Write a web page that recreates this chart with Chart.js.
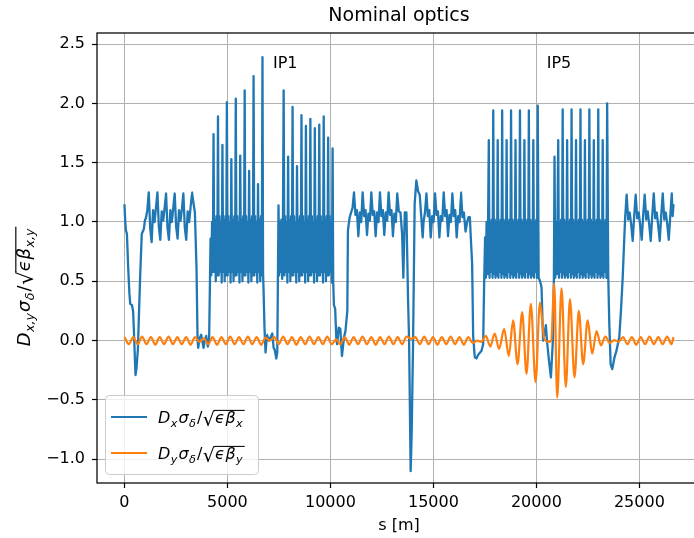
<!DOCTYPE html>
<html>
<head>
<meta charset="utf-8">
<script src="https://cdn.jsdelivr.net/npm/chart.js@4.4.1/dist/chart.umd.min.js"></script>
<style>
  html, body { margin: 0; padding: 0; background: #fff; overflow: hidden; }
  #wrap { width: 694px; height: 538px; overflow: hidden; }
  canvas { display: block; }
</style>
</head>
<body>
<div id="wrap"><canvas id="optics" width="720" height="538"></canvas></div>
<script>
// Axis ticks and labels
var xTicks = [0, 5000, 10000, 15000, 20000, 25000];
var yTicks = [-1.0, -0.5, 0.0, 0.5, 1.0, 1.5, 2.0, 2.5];
var ipNames = ['IP1', 'IP5'];
var ipS = [7210, 20500];
var ipY = 2.3;

// Dx sigma/sqrt(eps beta) : pieces, [s, value] pairs or
// evenly spaced runs of values
var dxStart = [[0,1.15],[40,1.0],[70,0.93],[120,0.90],[180,0.62],[240,0.40],[280,0.31],[360,0.30],[420,0.25],[470,0.03],[535,-0.29],[580,-0.24],[650,-0.08],[760,0.53],[840,0.90],[940,0.94],[1000,1.02]];
var dxArc1 = [1.03, 1.10, 1.25,
  0.95, 0.83, 1.10, 1.00, 1.12, 1.25,
  0.96, 0.85, 1.09, 1.01, 1.12, 1.24,
  0.95, 0.85, 1.10, 1.00, 1.12, 1.24,
  0.96, 0.86, 1.10, 1.01, 1.11, 1.24,
  0.95, 0.85, 1.09, 1.00, 1.12, 1.25];
var dxIr1 = [[3350,1.16],[3420,1.08],[3500,0.60],[3550,0.0],[3580,-0.06],[3650,0.02],[3725,0.05],[3840,-0.06],[3900,0.0],[3970,0.04],[4050,-0.05],[4110,0.0]];
var dxIp1Left = [0.86, 0.55, 1.00, 0.58,
  1.74, 0.58, 1.02, 0.50, 1.05, 0.55,
  1.89, 0.55, 1.05, 0.58, 1.00, 0.49,
  1.65, 0.58, 1.02, 0.50, 1.05, 0.55,
  2.01, 0.55, 1.05, 0.58, 1.00, 0.49,
  1.53, 0.58, 1.02, 0.50, 1.05, 0.55,
  2.04, 0.55, 1.05, 0.58, 1.00, 0.49,
  1.56, 0.58, 1.02, 0.50, 1.05, 0.55,
  2.11, 0.55, 1.05, 0.58, 1.00, 0.49,
  1.43, 0.58, 1.02, 0.50, 1.05, 0.55,
  2.23, 0.55, 1.05, 0.58, 1.00, 0.49,
  1.32, 0.58, 1.02, 0.50, 1.05, 0.55,
  2.39];
var dxIp1 = [[6730,0.57],[6755,0.42],[6800,0.10],[6850,-0.10],[6920,0.05],[7010,0.0],[7100,0.03],[7180,0.06],[7240,-0.06],[7300,-0.08],[7370,-0.15],[7420,-0.10],[7450,0.52],[7480,1.14]];
var dxIp1Right = [0.55, 1.00, 0.58, 1.02, 0.52, 1.00,
  2.11, 0.55, 1.05, 0.58, 1.00, 0.49,
  1.55, 0.58, 1.02, 0.50, 1.05, 0.55,
  1.97, 0.55, 1.05, 0.58, 1.00, 0.49,
  1.47, 0.58, 1.02, 0.50, 1.05, 0.55,
  1.90, 0.55, 1.05, 0.58, 1.00, 0.49,
  1.81, 0.58, 1.02, 0.50, 1.05, 0.55,
  1.87, 0.55, 1.05, 0.58, 1.00, 0.49,
  1.79, 0.58, 1.02, 0.50, 1.05, 0.55,
  1.82, 0.55, 1.05, 0.58, 1.00, 0.49,
  1.89, 0.58, 1.02, 0.50, 1.05, 0.55,
  1.71, 0.55, 1.05, 0.58, 1.00, 0.49,
  1.62];
var dxIr2 = [[10135,0.50],[10170,0.30],[10230,0.27],[10290,0.0],[10330,-0.03],[10400,0.11],[10480,0.10],[10560,-0.13],[10660,0.03],[10730,0.08],[10820,0.25],[10850,0.93],[10935,1.04]];
var dxArc2 = [1.08, 1.12, 1.25,
  1.06, 1.10, 0.88, 1.08, 1.00, 1.25,
  1.05, 1.10, 0.89, 1.07, 1.01, 1.25,
  1.06, 1.09, 0.88, 1.08, 1.00, 1.25,
  1.05, 1.10, 0.89, 1.08, 1.01, 1.25,
  1.06, 1.10, 0.88, 1.07, 1.00, 1.24];
var dxIr3 = [[13320,1.09],[13400,1.08],[13480,0.90],[13540,0.53],[13610,1.08],[13690,1.08],[13770,0.34],[13820,0.0],[13895,-1.10],[13945,-0.78],[14010,-0.05],[14090,1.15],[14170,1.35],[14255,1.26],[14335,1.23],[14420,1.02],[14480,0.87]];
var dxArc3 = [1.00, 1.08, 1.24,
  1.05, 1.10, 0.87, 1.05, 1.00, 1.24,
  1.06, 1.09, 0.87, 1.05, 1.01, 1.25,
  1.05, 1.10, 0.88, 1.06, 1.00, 1.24,
  1.05, 1.10, 0.87, 1.05, 1.00, 1.25];
var dxIr4 = [[16410,1.04],[16480,1.08],[16560,0.92],[16640,1.00],[16700,1.04],[16770,1.04],[16815,0.87],[16880,0.65],[16930,0.04],[17010,-0.14],[17090,-0.15],[17170,-0.12],[17335,-0.085],[17415,-0.03],[17465,0.50]];
var dxIp5Left = [0.87, 0.53, 1.00, 0.56, 1.00,
  1.69, 0.53, 1.00, 0.58, 1.02, 0.53,
  1.94, 0.56, 1.02, 0.53, 1.00, 0.55,
  1.69, 0.53, 1.00, 0.58, 1.02, 0.53,
  1.94, 0.56, 1.02, 0.53, 1.00, 0.55,
  1.69, 0.53, 1.00, 0.58, 1.02, 0.53,
  1.94, 0.56, 1.02, 0.53, 1.00, 0.55,
  1.69, 0.53, 1.00, 0.58, 1.02, 0.53,
  1.94, 0.56, 1.02, 0.53, 1.00, 0.55,
  1.69, 0.53, 1.00, 0.58, 1.02, 0.53,
  1.94, 0.56, 1.02, 0.53, 1.00, 0.55,
  1.69, 0.53, 1.00, 0.58, 1.02, 0.53,
  1.98];
var dxIp5 = [[20110,0.53],[20180,0.50],[20250,0.45],[20300,0.14],[20330,0.0],[20400,0.06],[20460,0.13],[20525,-0.02],[20600,-0.15],[20705,-0.31],[20800,0.0],[20850,0.53]];
var dxIp5Right = [1.55, 0.53, 1.00, 0.56, 1.00,
  1.69, 0.53, 1.00, 0.58, 1.02, 0.53,
  1.95, 0.56, 1.02, 0.53, 1.00, 0.55,
  1.69, 0.53, 1.00, 0.58, 1.02, 0.53,
  1.95, 0.56, 1.02, 0.53, 1.00, 0.55,
  1.69, 0.53, 1.00, 0.58, 1.02, 0.53,
  1.95, 0.56, 1.02, 0.53, 1.00, 0.55,
  1.69, 0.53, 1.00, 0.58, 1.02, 0.53,
  1.95, 0.56, 1.02, 0.53, 1.00, 0.55,
  1.69, 0.53, 1.00, 0.58, 1.02, 0.53,
  1.95, 0.56, 1.02, 0.53, 1.00, 0.55,
  1.69, 0.53, 1.00, 0.58, 1.02, 0.53,
  2.00];
var dxIr6 = [[23490,0.53],[23540,0.14],[23605,-0.20],[23685,-0.24],[23780,-0.15],[23895,-0.08],[24025,0.03],[24105,0.25],[24190,0.53],[24250,0.79]];
var dxArc4 = [1.04, 1.23,
  1.02, 1.08, 0.98, 0.84, 1.05, 1.23,
  1.03, 1.08, 0.97, 0.85, 1.06, 1.23,
  1.02, 1.09, 0.98, 0.84, 1.05, 1.24,
  1.03, 1.08, 0.97, 0.84, 1.06, 1.24,
  1.02, 1.08, 0.98, 0.85, 1.05, 1.24];
var dxEnd = [[26615,1.05],[26659,1.15]];

// Dy sigma/sqrt(eps beta)
var dyArcs = [0.03, -0.03, 0.03, -0.03, 0.035, -0.03, 0.03, -0.035, 0.03, -0.03,
  0.035, -0.03, 0.03, -0.03, 0.03, -0.035, 0.03, -0.01, 0.02, -0.03,
  0.03, -0.035, 0.03, -0.03, 0.035, -0.03, 0.03, -0.03, 0.035, -0.03,
  0.03, -0.035, 0.025, 0.0, 0.03, -0.03, 0.035, -0.03, 0.03, -0.035,
  0.03, -0.03, 0.035, -0.03, 0.03, -0.03, 0.035, -0.03, 0.01, -0.03,
  0.03, -0.035, 0.03, -0.03, 0.035, -0.03, 0.03, -0.035, 0.03, -0.03,
  0.035, -0.03, 0.03, -0.03, 0.035, 0.015, 0.03, -0.03, 0.035, -0.03,
  0.03, -0.035, 0.03, -0.03, 0.035, -0.03, 0.03, -0.035, 0.03, -0.02,
  0.0, -0.01, 0.04, -0.05, 0.06, -0.07];
var dyIp5 = [[18435,0.10],[18660,-0.13],[18870,0.17],[19085,-0.20],[19310,0.24],[19520,-0.28],[19730,0.31],[19960,-0.35],[20170,0.32],[20380,0.02],[20560,-0.01],[20720,0.0],[20865,0.48],[21010,-0.48],[21220,0.44],[21430,-0.39],[21630,0.35],[21850,-0.31],[22060,0.25],[22270,-0.20],[22490,0.17],[22710,-0.11],[22920,0.08],[23135,-0.04],[23350,0.035]];
var dyEndRun = [-0.02, 0.005, -0.01, 0.03, -0.03, 0.03, -0.035, 0.03, -0.03, 0.035, -0.03, 0.03, -0.03, 0.035, -0.03];
var dyEnd = [[26659,0.03]];

var blue = '#1f77b4';
var orange = '#ff7f0e';

function pairs(list) {
    return list.map(function(p) { return {x: p[0], y: p[1]}; });
}
function run(s0, ds, vals) {
    return vals.map(function(v, i) { return {x: s0 + i * ds, y: v}; });
}

var dxData = [].concat(
    pairs(dxStart), run(1040, 70, dxArc1), pairs(dxIr1),
    run(4181, 36, dxIp1Left), pairs(dxIp1), run(7514, 36, dxIp1Right),
    pairs(dxIr2), run(11005, 70, dxArc2), pairs(dxIr3),
    run(14520, 70, dxArc3), pairs(dxIr4), run(17510, 36, dxIp5Left),
    pairs(dxIp5), run(20880, 36, dxIp5Right), pairs(dxIr6),
    run(24310, 73, dxArc4), pairs(dxEnd)
);
var dyData = [].concat(
    run(0, 214, dyArcs), pairs(dyIp5), run(23564, 214, dyEndRun), pairs(dyEnd)
);

// little mathtext writer: [text, kind] kind = i italic, r roman, si/sr subscript, rad = sqrt
function mathRun(ctx, tokens, x, y, size, draw) {
    var cx = x, barX = null, barY = 0;
    ctx.textAlign = 'left';
    ctx.textBaseline = 'alphabetic';
    tokens.forEach(function(tk) {
        var t = tk[0], k = tk[1];
        if (k === 'rad') {
            ctx.font = (size * 1.2) + 'px "DejaVu Sans"';
            var m = ctx.measureText('\u221A');
            var dy = size * 0.18;
            if (draw) ctx.fillText('\u221A', cx, y + dy);
            barY = y + dy - m.actualBoundingBoxAscent;
            cx += m.width;
            barX = cx - 1;
            return;
        }
        var sub = k.charAt(0) === 's';
        var it = k.charAt(k.length - 1) === 'i';
        var fs = sub ? size * 0.7 : size;
        ctx.font = (it ? 'italic ' : '') + fs + 'px "DejaVu Sans"';
        if (draw) ctx.fillText(t, cx, y + (sub ? size * 0.24 : 0));
        cx += ctx.measureText(t).width + (sub ? 1 : 0.5);
    });
    if (draw && barX !== null) {
        ctx.fillRect(barX, barY, cx + 1 - barX, Math.max(1, size * 0.065));
    }
    return cx - x;
}

var yLabelTokens = [['D','i'],['x,y','si'],['\u03C3','i'],['\u03B4','si'],['/','r'],['','rad'],['\u03F5','i'],['\u03B2','i'],['x,y','si']];
var legendTokens = [
    [['D','i'],['x','si'],['\u03C3','i'],['\u03B4','si'],['/','r'],['','rad'],['\u03F5','i'],['\u03B2','i'],['x','si']],
    [['D','i'],['y','si'],['\u03C3','i'],['\u03B4','si'],['/','r'],['','rad'],['\u03F5','i'],['\u03B2','i'],['y','si']]
];

var decor = {
    id: 'decor',
    afterDraw: function(chart) {
        var ctx = chart.ctx, a = chart.chartArea;
        var xs = chart.scales.x, ys = chart.scales.y;
        ctx.save();

        // axes frame
        ctx.strokeStyle = '#000';
        ctx.lineWidth = 1.25;
        ctx.strokeRect(a.left, a.top, a.right - a.left, a.bottom - a.top);

        ctx.fillStyle = '#000';
        // IP annotations
        ctx.font = '16px "DejaVu Sans"';
        ctx.textAlign = 'left';
        ctx.textBaseline = 'alphabetic';
        ipNames.forEach(function(n, i) {
            ctx.fillText(n, xs.getPixelForValue(ipS[i]), ys.getPixelForValue(ipY));
        });

        // title and x label
        var cx = (a.left + a.right) / 2;
        ctx.textAlign = 'center';
        ctx.font = '19px "DejaVu Sans"';
        ctx.fillText('Nominal optics', cx, 21);
        ctx.font = '16px "DejaVu Sans"';
        ctx.fillText('s [m]', cx, 530);

        // y label
        ctx.save();
        ctx.translate(30, 287);
        ctx.rotate(-Math.PI / 2);
        var w = mathRun(ctx, yLabelTokens, 0, 0, 18, false);
        mathRun(ctx, yLabelTokens, -w / 2, 0, 18, true);
        ctx.restore();

        // legend
        var lx = 105, ly = 395, lw = 153, lh = 79;
        ctx.beginPath();
        ctx.roundRect(lx + 0.5, ly + 0.5, lw, lh, 4);
        ctx.fillStyle = 'rgba(255,255,255,0.8)';
        ctx.fill();
        ctx.strokeStyle = '#cccccc';
        ctx.lineWidth = 1;
        ctx.stroke();
        var rows = [417, 453], cols = [blue, orange];
        rows.forEach(function(ry, i) {
            ctx.strokeStyle = cols[i];
            ctx.lineWidth = 2.2;
            ctx.beginPath();
            ctx.moveTo(111, ry);
            ctx.lineTo(147, ry);
            ctx.stroke();
            ctx.fillStyle = '#000';
            mathRun(ctx, legendTokens[i], 158, ry + 6, 16, true);
        });
        ctx.restore();
    }
};

var tickFont = {family: '"DejaVu Sans"', size: 16};

new Chart(document.getElementById('optics'), {
    type: 'line',
    data: {
        datasets: [{
            label: 'Dy',
            data: dyData,
            borderColor: orange,
            borderWidth: 2.2,
            pointRadius: 0,
            tension: 0.4,
            cubicInterpolationMode: 'monotone',
            order: 0
        }, {
            label: 'Dx',
            data: dxData,
            borderColor: blue,
            borderWidth: 2.3,
            borderJoinStyle: 'round',
            pointRadius: 0,
            tension: 0.000001,
            order: 1
        }]
    },
    options: {
        responsive: false,
        animation: false,
        devicePixelRatio: 1,
        layout: { padding: { left: 0, right: 19, top: 33, bottom: 0 } },
        plugins: {
            legend: { display: false },
            tooltip: { enabled: false },
            title: { display: false }
        },
        scales: {
            x: {
                type: 'linear',
                min: -1333,
                max: 27992,
                afterBuildTicks: function(scale) {
                    scale.ticks = xTicks.map(function(v) { return {value: v}; });
                },
                afterFit: function(scale) { scale.height = 55; },
                grid: { color: '#b0b0b0', lineWidth: 1, tickColor: '#000', tickLength: 5, tickWidth: 1.2 },
                border: { display: false },
                ticks: {
                    autoSkip: false, maxRotation: 0, padding: 5, color: '#000', font: tickFont,
                    callback: function(v) { return String(v); }
                }
            },
            y: {
                min: -1.2,
                max: 2.593,
                afterBuildTicks: function(scale) {
                    scale.ticks = yTicks.map(function(v) { return {value: v}; });
                },
                afterFit: function(scale) { scale.width = 97; },
                grid: { color: '#b0b0b0', lineWidth: 1, tickColor: '#000', tickLength: 5, tickWidth: 1.2 },
                border: { display: false },
                ticks: {
                    autoSkip: false, padding: 7, color: '#000', font: tickFont,
                    callback: function(v) { return v.toFixed(1).replace('-', '\u2212'); }
                }
            }
        }
    },
    plugins: [decor]
});
</script>
</body>
</html>
